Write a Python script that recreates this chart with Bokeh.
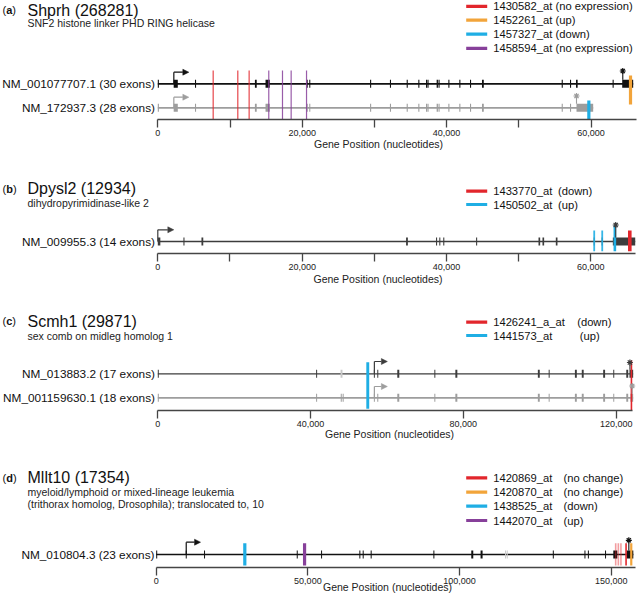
from bokeh.plotting import figure
from bokeh.models import Range1d, LinearAxis, FixedTicker, NumeralTickFormatter, Arrow, NormalHead
from bokeh.layouts import column
from bokeh.core.properties import value
from bokeh.embed import file_html
from bokeh.resources import INLINE

# ====================== DATA ======================
RED, ORANGE, BLUE, PURPLE = "#E2262C", "#F2A43A", "#1FAEE4", "#87409A"

# ---- (a) Shprh ----
a_gene = "Shprh (268281)"
a_desc = ["SNF2 histone linker PHD RING helicase"]
a_transcripts = ["NM_001077707.1 (30 exons)", "NM_172937.3 (28 exons)"]
a_tx_end = [65840, 60300]
a_tss = [2220, 2220]
a_stop = [64400, 57990]
a_t1_start = [0, 2200, 5150, 13450, 14920, 20620, 20980, 29400, 32150, 34470, 36080, 37150, 37350,
              38620, 38880, 40240, 41760, 43240, 44900, 55940, 57090, 57920, 62990, 64320]
a_t1_end = [150, 2770, 5300, 13700, 15510, 20760, 21120, 29550, 32300, 34620, 36230, 37300, 37500,
            38800, 39030, 40390, 41910, 43390, 45150, 56090, 57240, 58150, 63140, 65840]
a_t2_start = [0, 2200, 5150, 13450, 14920, 20620, 20980, 29400, 32150, 34470, 36080, 37150, 37350,
              38620, 38880, 40240, 41760, 43240, 44900, 55940, 57090, 57990]
a_t2_end = [150, 2770, 5300, 13700, 15510, 20760, 21120, 29550, 32300, 34620, 36230, 37300, 37500,
            38800, 39030, 40390, 41910, 43390, 45150, 56090, 57240, 60300]
a_probe_ids = ["1430582_at", "1452261_at", "1457327_at", "1458594_at"]
a_probe_status = ["(no expression)", "(up)", "(down)", "(no expression)"]
a_probe_colors = [RED, ORANGE, BLUE, PURPLE]
a_probe_pos = [[7670, 11080, 12650], [65470], [59700], [15370, 17270, 18470, 20600]]
a_ticks = [0, 20000, 40000, 60000]
a_minor = [10000, 30000, 50000]

# ---- (b) Dpysl2 ----
b_gene = "Dpysl2 (12934)"
b_desc = ["dihydropyrimidinase-like 2"]
b_transcripts = ["NM_009955.3 (14 exons)"]
b_tx_end = [66150]
b_tss = [0]
b_stop = [63450]
b_t1_start = [0, 3550, 6050, 34400, 38550, 39000, 39550, 44100, 52750, 53300, 55150, 60400, 61500, 63050]
b_t1_end = [350, 3700, 6300, 34650, 38700, 39150, 39700, 44250, 52980, 53530, 55380, 60550, 61650, 66150]
b_probe_ids = ["1433770_at", "1450502_at"]
b_probe_status = ["(down)", "(up)"]
b_probe_colors = [RED, BLUE]
b_probe_pos = [[65400], [60470, 61580, 63330]]
b_ticks = [0, 20000, 40000, 60000]
b_minor = [10000, 30000, 50000]

# ---- (c) Scmh1 ----
c_gene = "Scmh1 (29871)"
c_desc = ["sex comb on midleg homolog 1"]
c_transcripts = ["NM_013883.2 (17 exons)", "NM_001159630.1 (18 exons)"]
c_tx_end = [124450, 124450]
c_tss = [56700, 56700]
c_stop = [123600, 124200]
c_t1_start = [0, 41450, 56570, 57460, 62700, 72400, 77900, 99500, 102330, 109200, 111000, 116600,
              119240, 122650, 123480]
c_t1_end = [260, 41710, 56830, 57720, 63220, 72660, 78420, 100000, 102590, 109700, 111500, 117100,
            119500, 123150, 124450]
c_t1_alt_start = [47850]
c_t1_alt_end = [48350]
c_t2_start = [0, 41450, 47900, 48400, 56570, 57460, 62700, 72400, 77900, 99500, 102330, 109200,
              111000, 116600, 119240, 122650, 123740]
c_t2_end = [260, 41710, 48160, 48660, 56830, 57720, 63220, 72660, 78420, 100000, 102590, 109700,
            111500, 117100, 119500, 123150, 124450]
c_probe_ids = ["1426241_a_at", "1441573_at"]
c_probe_status = ["(down)", "(up)"]
c_probe_colors = [RED, BLUE]
c_probe_pos = [[124000], [54970]]
c_ticks = [0, 40000, 80000, 120000]
c_minor = []

# ---- (d) Mllt10 ----
d_gene = "Mllt10 (17354)"
d_desc = ["myeloid/lymphoid or mixed-lineage leukemia",
          "(trithorax homolog, Drosophila); translocated to, 10"]
d_transcripts = ["NM_010804.3 (23 exons)"]
d_tx_end = [157280]
d_tss = [9900]
d_stop = [155800]
d_t1_start = [0, 9740, 15770, 46330, 54350, 66970, 68070, 70700, 91370, 103860, 106930, 130740,
              141170, 142300, 147960, 150680, 155100]
d_t1_end = [330, 10070, 16100, 46660, 54680, 67300, 68400, 71030, 91700, 104520, 107590, 131070,
            141500, 142630, 148290, 152000, 157280]
d_t1_alt_start = [115000, 115550]
d_t1_alt_end = [115330, 115880]
d_probe_ids = ["1420869_at", "1420870_at", "1438525_at", "1442070_at"]
d_probe_status = ["(no change)", "(no change)", "(down)", "(up)"]
d_probe_colors = [RED, ORANGE, BLUE, PURPLE]
d_probe_pos = [[151470, 152350, 153200, 154890], [156600], [29210], [48910]]
d_ticks = [0, 50000, 100000, 150000]
d_minor = []

AXIS_TITLE = "Gene Position (nucleotides)"

# ====================== LAYOUT / STYLE ======================
S = 1.0            # overall scale of the reference layout
W = 641
FONT = "Liberation Sans"
BLACK, DARK, GREY, LIGHT = "#111111", "#3c3c3c", "#9d9d9d", "#c9c9c9"

PANELS = [
    dict(letter="a", gene=a_gene, desc=a_desc, tx=a_transcripts, tx_end=a_tx_end, tss=a_tss, stop=a_stop,
         exons=[(a_t1_start, a_t1_end), (a_t2_start, a_t2_end)], alt=[None, None],
         pids=a_probe_ids, pstat=a_probe_status, pcol=a_probe_colors, ppos=a_probe_pos,
         ticks=a_ticks, minor=a_minor,
         band=(0, 164), zero_x=157.3, end_x=636.0, axis_end=66300, axis_y=118.7,
         track_y=[83.3, 107.3], track_col=[BLACK, GREY], track_w=[1.7, 1.7],
         arrow_top=[71.7, 96.7], arrow_len=15, star_y=[70.5, 95.5],
         title_y=9.5, desc_y=[22.5], leg_y=[5.8, 19.6, 33.6, 47.8], stat_x=[555] * 4,
         gp=(378, 143.3), label_x=154.5,
         pstyle=[dict(y0=70, y1=118.7, w=1.2, a=0.85), dict(y0=75, y1=104, w=3.2, a=1),
                 dict(y0=100, y1=118.7, w=3.2, a=1), dict(y0=70, y1=118.7, w=1.2, a=0.85)]),
    dict(letter="b", gene=b_gene, desc=b_desc, tx=b_transcripts, tx_end=b_tx_end, tss=b_tss, stop=b_stop,
         exons=[(b_t1_start, b_t1_end)], alt=[None],
         pids=b_probe_ids, pstat=b_probe_status, pcol=b_probe_colors, ppos=b_probe_pos,
         ticks=b_ticks, minor=b_minor,
         band=(164, 296), zero_x=157.3, end_x=635.0, axis_end=66190, axis_y=253.0,
         track_y=[241.0], track_col=[DARK], track_w=[1.3],
         arrow_top=[229.3], arrow_len=16, star_y=[224.5],
         title_y=188.3, desc_y=[202.7], leg_y=[190.7, 204.0], stat_x=[557.5, 557.5],
         gp=(377.5, 278.3), label_x=154.5,
         pstyle=[dict(y0=230, y1=250.7, w=3.6, a=1),
                 dict(y0=[230, 230, 225], y1=250.7, w=[1.8, 1.8, 2.6], a=[0.9, 0.9, 1])]),
    dict(letter="c", gene=c_gene, desc=c_desc, tx=c_transcripts, tx_end=c_tx_end, tss=c_tss, stop=c_stop,
         exons=[(c_t1_start, c_t1_end), (c_t2_start, c_t2_end)], alt=[(c_t1_alt_start, c_t1_alt_end), None],
         pids=c_probe_ids, pstat=c_probe_status, pcol=c_probe_colors, ppos=c_probe_pos,
         ticks=c_ticks, minor=c_minor,
         band=(296, 446), zero_x=157.3, end_x=631.7, axis_end=124200, axis_y=410.0,
         track_y=[373.3, 397.3], track_col=[DARK, GREY], track_w=[1.3, 1.7],
         arrow_top=[361.0, 386.0], arrow_len=13, star_y=[362.0, 385.5],
         title_y=320.7, desc_y=[335.0], leg_y=[321.7, 335.0], stat_x=[576.7, 579.3],
         gp=(389, 433.3), label_x=154.5,
         pstyle=[dict(y0=360, y1=410, w=1.6, a=1), dict(y0=361.7, y1=408.3, w=2.9, a=1)]),
    dict(letter="d", gene=d_gene, desc=d_desc, tx=d_transcripts, tx_end=d_tx_end, tss=d_tss, stop=d_stop,
         exons=[(d_t1_start, d_t1_end)], alt=[(d_t1_alt_start, d_t1_alt_end)],
         pids=d_probe_ids, pstat=d_probe_status, pcol=d_probe_colors, ppos=d_probe_pos,
         ticks=d_ticks, minor=d_minor,
         band=(446, 594), zero_x=155.7, end_x=635.0, axis_end=158000, axis_y=566.7,
         track_y=[554.0], track_col=[BLACK], track_w=[1.4],
         arrow_top=[541.7], arrow_len=14.3, star_y=[539.8],
         title_y=477.3, desc_y=[491.7, 503.3], leg_y=[477.3, 491.7, 505.7, 520.0], stat_x=[563] * 4,
         gp=(387, 586.7), label_x=154.0,
         pstyle=[dict(y0=542.7, y1=565, w=1.6, a=[0.45, 0.45, 0.45, 1]), dict(y0=542.7, y1=565, w=2.2, a=1),
                 dict(y0=542.7, y1=565, w=3.2, a=1), dict(y0=542.7, y1=565, w=3.2, a=1)]),
]


def fs(v):
    return value(f"{v * S:.2f}px")


def bcast(v, n):
    return list(v) if isinstance(v, (list, tuple)) else [v] * n


def text(p, xs, ys, texts, size, align="left", style="normal", color="#111111", level=None):
    r = p.text(x=xs, y=ys, text=texts, text_font=value(FONT), text_font_size=fs(size),
               text_font_style=style, text_align=align, text_baseline="middle", text_color=color)
    if level:
        r.level = level
    return r


def build(c):
    b0, b1 = round(S * c["band"][0]), round(S * c["band"][1])
    H = b1 - b0
    ax_px = round(S * c["axis_y"]) - b0
    zero = c["zero_x"]
    k = (c["end_x"] - zero) / c["axis_end"]          # reference px per nucleotide

    def X(rx):
        return (rx - zero) / k

    p = figure(width=W, height=H, output_backend="svg", toolbar_location=None, title=None,
               x_range=Range1d(X(0), X(W / S)), y_range=Range1d((b0 + ax_px) / S, b0 / S),
               x_axis_location=None, y_axis_location=None,
               min_border_left=0, min_border_right=0, min_border_top=0, min_border_bottom=H - ax_px,
               outline_line_color=None, background_fill_color="white", border_fill_color="white")
    p.grid.visible = False

    ax = LinearAxis(bounds=(0, c["axis_end"]),
                    ticker=FixedTicker(ticks=c["ticks"], minor_ticks=c["minor"]),
                    formatter=NumeralTickFormatter(format="0,0"),
                    axis_line_color="#454545", axis_line_width=1.6 * S,
                    major_tick_line_color="#454545", major_tick_line_width=1.3 * S,
                    major_tick_in=0, major_tick_out=8,
                    minor_tick_line_color="#454545", minor_tick_line_width=1.3 * S,
                    minor_tick_in=0, minor_tick_out=8,
                    major_label_text_font=FONT, major_label_text_font_size=f"{9 * S:.2f}px",
                    major_label_standoff=2, major_label_text_color="#222222")
    p.add_layout(ax, "below")

    # panel heading
    ty = c["title_y"]
    lw = {"a": 0.556, "b": 0.611, "c": 0.556, "d": 0.611}[c["letter"]] * 11
    text(p, [X(2)], [ty], ["("], 11)
    text(p, [X(5.7)], [ty], [c["letter"]], 11, style="bold")
    text(p, [X(5.7 + lw)], [ty], [")"], 11)
    text(p, [X(27)], [ty], [c["gene"]], 16)
    text(p, [X(27)] * len(c["desc"]), c["desc_y"], c["desc"], 10.5, color="#222222")

    # legend of probe sets
    n = len(c["pids"])
    p.segment(x0=[X(465.7)] * n, x1=[X(486.7)] * n, y0=c["leg_y"], y1=c["leg_y"],
              line_color=c["pcol"], line_width=3.2 * S)
    text(p, [X(492.7)] * n, c["leg_y"], c["pids"], 11.2)
    text(p, [X(sx) for sx in c["stat_x"]], c["leg_y"], c["pstat"], 11.2)

    # transcripts
    text(p, [X(c["label_x"])] * len(c["tx"]), c["track_y"], c["tx"], 11.8, align="right")
    for i, (ex_s, ex_e) in enumerate(c["exons"]):
        y, col = c["track_y"][i], c["track_col"][i]
        p.segment(x0=[0], x1=[c["tx_end"][i]], y0=[y], y1=[y], line_color=col, line_width=c["track_w"][i] * S)
        alt = c["alt"][i]
        if alt:
            p.quad(left=alt[0], right=alt[1], top=[y - 4] * len(alt[0]), bottom=[y + 4] * len(alt[0]),
                   fill_color=LIGHT, line_color=None)
        p.quad(left=ex_s, right=ex_e, top=[y - 4] * len(ex_s), bottom=[y + 4] * len(ex_s),
               fill_color=col, line_color=None)

    # probe sets
    for j, pos in enumerate(c["ppos"]):
        st = c["pstyle"][j]
        m = len(pos)
        p.segment(x0=pos, x1=pos, y0=bcast(st["y0"], m), y1=bcast(st["y1"], m),
                  line_color=c["pcol"][j], line_width=[w * S for w in bcast(st["w"], m)],
                  line_alpha=bcast(st["a"], m))

    # transcription start arrows and stop asterisks
    for i in range(len(c["tx"])):
        y, col = c["track_y"][i], c["track_col"][i]
        t, top = c["tss"][i], c["arrow_top"][i]
        p.segment(x0=[t], x1=[t], y0=[y], y1=[top], line_color=col, line_width=1.2 * S)
        p.add_layout(Arrow(end=NormalHead(size=6, fill_color=col, line_color=col, line_width=0.5),
                           x_start=t, y_start=top, x_end=t + c["arrow_len"] / k, y_end=top,
                           line_color=col, line_width=1.2 * S))
        s_, sy = c["stop"][i], c["star_y"][i]
        p.segment(x0=[s_], x1=[s_], y0=[y - 4], y1=[sy + 2], line_color=col, line_width=1.1 * S)
        p.scatter(x=[s_], y=[sy], marker="asterisk", size=6 * S, line_color=col, line_width=1.2)

    # axis title (below the axis)
    text(p, [X(c["gp"][0])], [c["gp"][1]], [AXIS_TITLE], 10.5, align="center", color="#222222",
         level="overlay")
    return p


figs = [build(c) for c in PANELS]
layout = column(*figs, spacing=0)

with open("out.html", "w") as f:
    f.write(file_html(layout, INLINE))
